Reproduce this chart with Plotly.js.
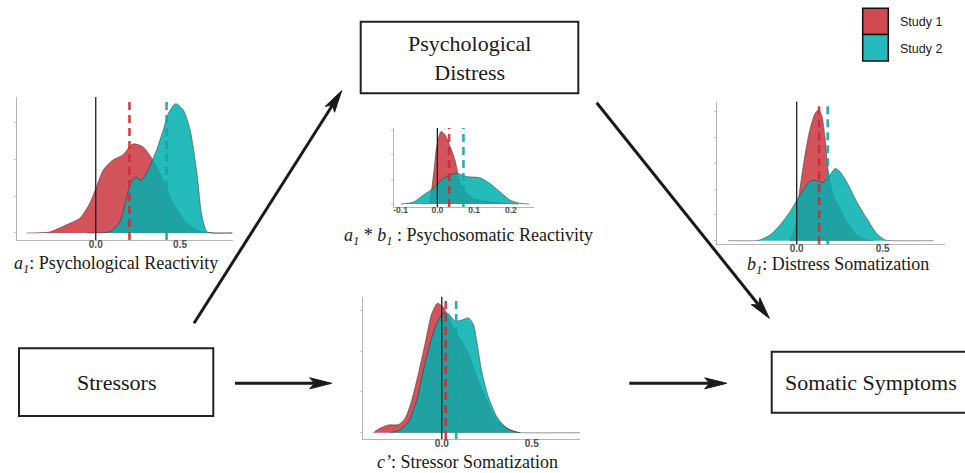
<!DOCTYPE html>
<html><head><meta charset="utf-8">
<script src="https://cdn.plot.ly/plotly-3.0.1.min.js"></script>
<style>html,body{margin:0;padding:0;background:#fff;}#chart{width:965px;height:473px;}</style>
</head><body><div id="chart"></div>
<script>
// ---------- DATA ----------
const studies = ['Study 1', 'Study 2'];

// a1: Psychological Reactivity
const a1_x_s1 = [-0.41, -0.34, -0.27, -0.175, -0.095, -0.036, 0.004, 0.044, 0.10, 0.16, 0.22, 0.28, 0.34, 0.40, 0.46, 0.54, 0.62, 0.70, 0.81];
const a1_y_s1 = [0, 0.005, 0.03, 0.22, 0.40, 0.80, 1.25, 1.70, 1.97, 2.11, 2.41, 2.33, 1.97, 1.43, 0.80, 0.27, 0.04, 0, 0];
const a1_x_s2 = [-0.05, 0.03, 0.083, 0.14, 0.18, 0.21, 0.24, 0.27, 0.31, 0.36, 0.40, 0.43, 0.474, 0.52, 0.56, 0.60, 0.63, 0.66, 0.70, 0.81];
const a1_y_s2 = [0, 0.005, 0.03, 0.27, 0.89, 1.39, 1.50, 1.42, 1.70, 2.24, 2.78, 3.23, 3.50, 3.32, 2.78, 1.62, 0.45, 0.03, 0, 0];
const a1_means = [0.20, 0.42];
const a1_xticks = [0, 0.5];
const a1_xticklabels = ['0.0', '0.5'];
const a1_yticks = [0, 1, 2, 3];

// a1*b1: Psychosomatic Reactivity
const ab_x_s1 = [-0.04, -0.024, -0.017, -0.009, -0.002, 0.010, 0.021, 0.035, 0.048, 0.060, 0.071, 0.098, 0.143, 0.189, 0.22];
const ab_y_s1 = [0, 0.03, 0.46, 1.39, 2.34, 2.96, 2.82, 2.34, 1.80, 0.98, 0.57, 0.24, 0.09, 0.02, 0];
const ab_x_s2 = [-0.10, -0.065, -0.038, -0.011, 0.016, 0.053, 0.080, 0.116, 0.143, 0.170, 0.198, 0.225, 0.25];
const ab_y_s2 = [0, 0.08, 0.37, 0.64, 1.05, 1.25, 1.12, 1.07, 0.84, 0.50, 0.16, 0.03, 0];
const ab_means = [0.032, 0.071];
const ab_xticks = [-0.1, 0, 0.1, 0.2];
const ab_xticklabels = ['-0.1', '0.0', '0.1', '0.2'];
const ab_yticks = [0, 1, 2, 3];

// b1: Distress Somatization
const b1_x_s1 = [-0.039, -0.01, 0.019, 0.048, 0.078, 0.107, 0.126, 0.145, 0.165, 0.184, 0.213, 0.252, 0.291, 0.349, 0.407, 0.446];
const b1_y_s1 = [0, 0.48, 2.03, 3.32, 4.35, 4.94, 5.06, 4.87, 3.97, 2.67, 1.77, 1.25, 0.74, 0.22, 0.03, 0];
const b1_x_s2 = [-0.40, -0.25, -0.213, -0.155, -0.097, -0.039, 0.019, 0.078, 0.116, 0.155, 0.194, 0.223, 0.252, 0.300, 0.349, 0.407, 0.465, 0.514, 0.562, 0.795];
const b1_y_s2 = [0, 0, 0.03, 0.22, 0.61, 1.12, 1.77, 2.31, 2.33, 2.26, 2.55, 2.80, 2.67, 2.16, 1.51, 0.87, 0.28, 0.03, 0, 0];
const b1_means = [0.130, 0.180];
const b1_xticks = [0, 0.5];
const b1_xticklabels = ['0.0', '0.5'];
const b1_yticks = [0, 1, 2, 3, 4, 5];

// c': Stressor Somatization
const c_x_s1 = [-0.38, -0.343, -0.296, -0.241, -0.204, -0.167, -0.130, -0.093, -0.056, -0.024, 0.009, 0.046, 0.083, 0.12, 0.157, 0.194, 0.25, 0.306, 0.38, 0.435];
const c_y_s1 = [0, 0.11, 0.19, 0.20, 0.35, 0.80, 1.45, 2.18, 2.91, 3.17, 3.07, 2.75, 2.42, 2.18, 1.85, 1.37, 0.80, 0.31, 0.07, 0];
const c_x_s2 = [-0.287, -0.231, -0.185, -0.139, -0.102, -0.065, -0.028, 0.009, 0.037, 0.074, 0.111, 0.148, 0.176, 0.194, 0.222, 0.259, 0.306, 0.361, 0.417, 0.444, 0.769];
const c_y_s2 = [0, 0.07, 0.27, 0.80, 1.53, 2.18, 2.67, 2.93, 2.91, 2.73, 2.76, 2.81, 2.65, 2.25, 1.50, 0.88, 0.39, 0.11, 0.01, 0, 0];
const c_means = [0.022, 0.080];
const c_xticks = [0, 0.5];
const c_xticklabels = ['0.0', '0.5'];
const c_yticks = [0, 1, 2, 3];

// ---------- LAYOUT HELPERS ----------
const W = 965, H = 473;
const px = x => x / W;
const py = y => 1 - y / H;

const FILL = ['rgba(200,40,50,0.8)', 'rgba(0,175,175,0.85)'];
const DASH = ['rgb(205,45,55)', 'rgb(20,165,165)'];
const SERIF = 'Liberation Serif, Times New Roman, serif';
const SANS = 'Liberation Sans, Arial, sans-serif';

const panels = [
  {n: '', xs: [a1_x_s1, a1_x_s2], ys: [a1_y_s1, a1_y_s2], means: a1_means, xt: a1_xticks, xl: a1_xticklabels, yt: a1_yticks,
   box: [17, 97, 233, 240], xr: [-0.467, 0.814], yr: [-0.19, 3.68], tf: 10},
  {n: '2', xs: [ab_x_s1, ab_x_s2], ys: [ab_y_s1, ab_y_s2], means: ab_means, xt: ab_xticks, xl: ab_xticklabels, yt: ab_yticks,
   box: [394, 128, 534, 207], xr: [-0.118, 0.263], yr: [-0.12, 3.10], tf: 8.5},
  {n: '3', xs: [b1_x_s1, b1_x_s2], ys: [b1_y_s1, b1_y_s2], means: b1_means, xt: b1_xticks, xl: b1_xticklabels, yt: b1_yticks,
   box: [716.7, 101.7, 945, 244.3], xr: [-0.465, 0.862], yr: [-0.14, 5.39], tf: 10},
  {n: '4', xs: [c_x_s1, c_x_s2], ys: [c_y_s1, c_y_s2], means: c_means, xt: c_xticks, xl: c_xticklabels, yt: c_yticks,
   box: [363.3, 296.7, 580, 439], xr: [-0.436, 0.768], yr: [-0.154, 3.33], tf: 10}
];

const traces = [];
const shapes = [];
const annotations = [];
const layout = {
  width: W, height: H, autosize: false,
  margin: {l: 0, r: 0, t: 0, b: 0},
  paper_bgcolor: '#fff', plot_bgcolor: 'rgba(0,0,0,0)',
  showlegend: false, hovermode: false
};

panels.forEach(p => {
  const xa = 'x' + p.n, ya = 'y' + p.n;
  layout['xaxis' + p.n] = {
    domain: [px(p.box[0]), px(p.box[2])], range: p.xr, anchor: ya,
    showline: true, linecolor: '#b5b5b5', linewidth: 1, showgrid: false, zeroline: false,
    tickmode: 'array', tickvals: p.xt, ticktext: p.xl, ticks: '', ticklabelstandoff: -5,
    tickfont: {family: SANS, size: p.tf, color: '#4d4d4d', weight: 'bold'}, fixedrange: true
  };
  layout['yaxis' + p.n] = {
    domain: [py(p.box[3]), py(p.box[1])], range: p.yr, anchor: xa,
    showline: true, linecolor: '#b5b5b5', linewidth: 1, showgrid: false, zeroline: false,
    tickmode: 'array', tickvals: p.yt, ticks: 'outside', ticklen: 2, tickcolor: '#c8c8c8',
    showticklabels: false, fixedrange: true
  };
  [0, 1].forEach(i => {
    traces.push({
      type: 'scatter', mode: 'lines', x: p.xs[i], y: p.ys[i], xaxis: xa, yaxis: ya,
      name: studies[i], fill: 'tozeroy', fillcolor: FILL[i],
      line: {color: 'rgba(45,45,45,0.85)', width: 0.6, shape: 'spline', smoothing: 0.7}
    });
  });
  // zero line
  shapes.push({type: 'line', xref: xa, yref: ya + ' domain', x0: 0, x1: 0, y0: 0, y1: 1,
    line: {color: '#1e1e1e', width: 1.3}});
  // means
  [0, 1].forEach(i => {
    shapes.push({type: 'line', xref: xa, yref: ya + ' domain', x0: p.means[i], x1: p.means[i], y0: 0, y1: 1,
      line: {color: DASH[i], width: 2.6, dash: '8px,5px'}, opacity: 0.9});
  });
});

// ---------- DIAGRAM ----------
function rect(x0, y0, x1, y1) {
  shapes.push({type: 'rect', xref: 'paper', yref: 'paper', x0: px(x0), x1: px(x1), y0: py(y1), y1: py(y0),
    line: {color: '#222', width: 2}, fillcolor: 'rgba(0,0,0,0)'});
}
function arrow(x0, y0, x1, y1) {
  const dx = x1 - x0, dy = y1 - y0, len = Math.hypot(dx, dy);
  const ux = dx / len, uy = dy / len, nx = -uy, ny = ux;
  const L = 22, Wd = 5.5, N = 17;
  const bx = x1 - ux * L, by = y1 - uy * L;
  const mx = x1 - ux * N, my = y1 - uy * N;
  shapes.push({type: 'line', xref: 'paper', yref: 'paper', x0: px(x0), y0: py(y0), x1: px(mx), y1: py(my),
    line: {color: '#1a1a1a', width: 3}});
  const pt = (x, y) => px(x) + ',' + py(y);
  shapes.push({type: 'path', xref: 'paper', yref: 'paper',
    path: 'M' + pt(x1, y1) + ' L' + pt(bx + nx * Wd, by + ny * Wd) + ' L' + pt(mx, my) + ' L' + pt(bx - nx * Wd, by - ny * Wd) + ' Z',
    fillcolor: '#1a1a1a', line: {color: '#1a1a1a', width: 1}});
}
function text(t, x, y, size, fam, anchor) {
  annotations.push({text: t, xref: 'paper', yref: 'paper', x: px(x), y: py(y), showarrow: false,
    xanchor: anchor || 'center', yanchor: 'middle', font: {family: fam || SERIF, size: size, color: '#1a1a1a'}});
}

rect(360.7, 21.7, 578.3, 93.3);
rect(19, 348.3, 213.3, 416);
rect(771.7, 351.7, 967, 412.7);
text('Psychological<br>Distress', 469.5, 57.5, 22);
text('Stressors', 116, 382, 22);
text('Somatic Symptoms', 871, 382, 22);

arrow(194, 323.3, 341.7, 90.7);
arrow(596.7, 102.7, 769.3, 318.3);
arrow(235, 383.3, 331.7, 383.3);
arrow(629.3, 383.3, 726.7, 383.3);

text('<i>a<sub>1</sub></i>: Psychological Reactivity', 116, 264, 18);
text('<i>a<sub>1</sub></i> * <i>b<sub>1</sub></i> : Psychosomatic Reactivity', 468.5, 236, 18);
text('<i>b<sub>1</sub></i>: Distress Somatization', 838, 265, 18);
text('<i>c’</i>: Stressor Somatization', 467.5, 462, 18);

// legend
const legendFill = ['rgb(208,72,80)', 'rgb(36,185,186)'];
[0, 1].forEach(i => {
  const y0 = 8.3 + i * 26.3;
  shapes.push({type: 'rect', xref: 'paper', yref: 'paper', x0: px(862.7), x1: px(888.3), y0: py(y0 + 26.3), y1: py(y0),
    line: {color: '#111', width: 1.5}, fillcolor: legendFill[i]});
  text(studies[i], 897.5, y0 + 14, 12.5, SANS, 'left');
});

layout.shapes = shapes;
layout.annotations = annotations;
Plotly.newPlot('chart', traces, layout, {staticPlot: true, displayModeBar: false});
</script></body></html>
